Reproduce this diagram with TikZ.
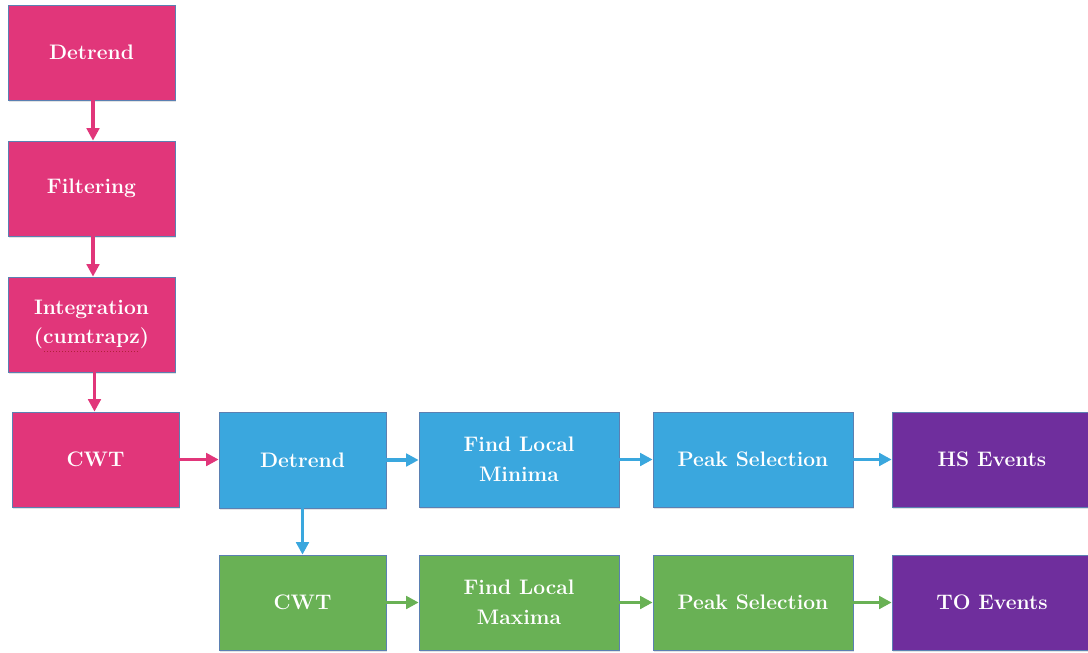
\documentclass[tikz,border=0pt]{standalone}
\usepackage{fontspec}
\usetikzlibrary{arrows.meta,shadows}
\definecolor{cpink}{HTML}{E1367A}
\definecolor{cblue}{HTML}{3AA7DE}
\definecolor{cgreen}{HTML}{69B155}
\definecolor{cpurple}{HTML}{6F2E9D}
\definecolor{cedge}{HTML}{5B80B2}
\definecolor{cspell}{HTML}{B0203A}
\begin{document}
\begin{tikzpicture}[x=1pt,y=-1pt,
  box/.style={draw=cedge, line width=0.7pt, text=white, align=center,
    font=\fontsize{21}{29.5}\selectfont\bfseries, inner sep=0pt,
    drop shadow={opacity=0.22, shadow xshift=1.2pt, shadow yshift=-2pt}},
  pinkbox/.style={box, fill=cpink},
  bluebox/.style={box, fill=cblue},
  greenbox/.style={box, fill=cgreen},
  purplebox/.style={box, fill=cpurple},
  conn/.style={line width=3.4pt, -{Triangle[length=12.5pt,width=12.5pt]}},
]
\useasboundingbox (0,0) rectangle (1088,653);
\fill[white] (0,0) rectangle (1088,653);
% pink column
\node[pinkbox, minimum width=167pt, minimum height=95pt] (d1) at (91.5,52.5) {Detrend};
\node[pinkbox, minimum width=167pt, minimum height=95pt] (filt) at (91.5,188.5) {Filtering};
\node[pinkbox, minimum width=167pt, minimum height=95pt] (integ) at (91.5,324.5) {Integration\\(cumtrapz)};
\node[pinkbox, minimum width=167pt, minimum height=95pt] (cwt1) at (95.5,459.5) {CWT};
% top row
\node[bluebox, minimum width=167pt, minimum height=96pt] (d2) at (302.5,460) {Detrend};
\node[bluebox, minimum width=200pt, minimum height=95pt] (fmin) at (519,459.5) {Find Local\\Minima};
\node[bluebox, minimum width=200pt, minimum height=95pt] (ps1) at (753,459.5) {Peak Selection};
\node[purplebox, minimum width=200pt, minimum height=95pt] (hs) at (992,459.5) {HS Events};
% bottom row
\node[greenbox, minimum width=167pt, minimum height=95pt] (cwt2) at (302.5,602.5) {CWT};
\node[greenbox, minimum width=200pt, minimum height=95pt] (fmax) at (519,602.5) {Find Local\\Maxima};
\node[greenbox, minimum width=200pt, minimum height=95pt] (ps2) at (753,602.5) {Peak Selection};
\node[purplebox, minimum width=200pt, minimum height=95pt] (to) at (992,602.5) {TO Events};
% spell-check mark under cumtrapz
\draw[cspell, dotted, line width=1pt] (44,351) -- (139,351);
% connectors
\begin{scope}[conn, cpink]
\draw ([xshift=1.5pt]d1.south) -- ([xshift=1.5pt]filt.north);
\draw ([xshift=1.5pt]filt.south) -- ([xshift=1.5pt]integ.north);
\draw ([xshift=3pt]integ.south) -- ([xshift=3pt]integ.south |- cwt1.north);
\draw (cwt1.east) -- (cwt1.east -| d2.west);
\end{scope}
\begin{scope}[conn, cblue]
\draw (d2.east) -- (d2.east -| fmin.west);
\draw (fmin.east) -- (ps1.west);
\draw (ps1.east) -- (hs.west);
\draw (d2.south) -- (cwt2.north);
\end{scope}
\begin{scope}[conn, cgreen]
\draw (cwt2.east) -- (fmax.west);
\draw (fmax.east) -- (ps2.west);
\draw (ps2.east) -- (to.west);
\end{scope}
\end{tikzpicture}
\end{document}
